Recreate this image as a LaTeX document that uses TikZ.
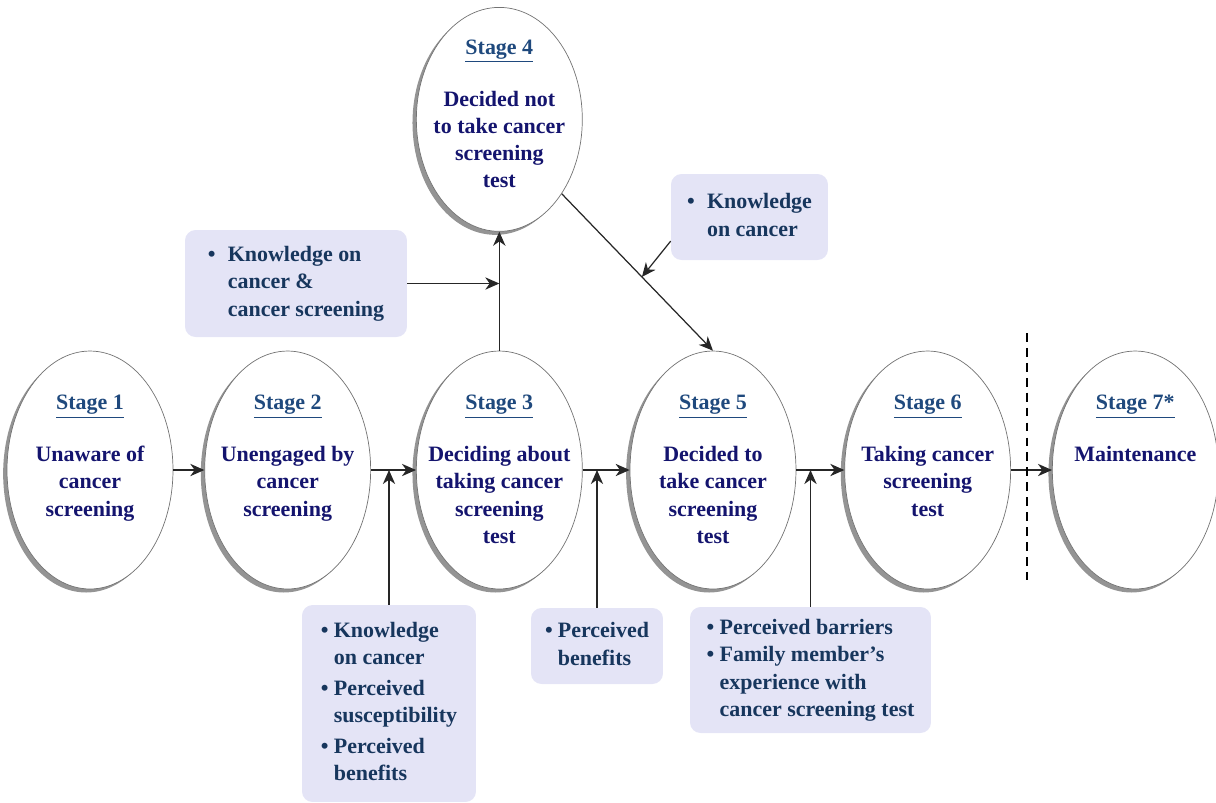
\documentclass[tikz,border=0pt]{standalone}
\usepackage{fontspec}
\setmainfont{Liberation Serif}
\usepackage{xcolor}
\usepackage{tikz}
\usetikzlibrary{positioning,arrows.meta,shapes.geometric,shadows,calc}
\definecolor{stagenavy}{RGB}{20,20,110}
\definecolor{stagetitle}{RGB}{31,73,125}
\definecolor{boxtext}{RGB}{23,54,93}
\definecolor{boxfill}{RGB}{228,228,246}
\newcommand{\stagehead}[1]{\textcolor{stagetitle}{\underline{#1}}}

\begin{document}
\begin{tikzpicture}[x=0.02cm,y=-0.02cm,
  stage/.style={ellipse,draw=black!55,fill=white,minimum width=33.2mm,minimum height=47.6mm,inner sep=0pt,
    drop shadow={shadow xshift=-2.2pt,shadow yshift=-2pt,fill=black!70,opacity=0.6}},
  stagetxt/.style={anchor=north,align=center,inner sep=0pt,text=stagenavy,font=\bfseries\fontsize{12.5}{15.5}\selectfont},
  factor/.style={rectangle,rounded corners=6pt,fill=boxfill,text=boxtext,align=left,font=\bfseries\fontsize{12.5}{15.5}\selectfont},
  dep/.style={-{Stealth[length=8pt,width=7pt,inset=2.5pt]},black!85,line width=0.7pt}]
\useasboundingbox (0,0) rectangle (1216,802);
% stages
\node[stage] (s1) at (90,470) {};
\node[stage,right=6.2mm of s1] (s2) {};
\node[stage,right=9mm of s2] (s3) {};
\node[stage,right=9.4mm of s3] (s5) {};
\node[stage,right=9.6mm of s5] (s6) {};
\node[stage,right=8.2mm of s6] (s7) {};
\node[stage,above=23.8mm of s3,minimum height=44.8mm] (s4) {};
\node[stagetxt] (t1) at ([yshift=15mm]s1.center) {\stagehead{Stage 1}\\[14pt]Unaware of\\cancer\\screening};
\node[stagetxt] (t2) at ([yshift=15mm]s2.center) {\stagehead{Stage 2}\\[14pt]Unengaged by\\cancer\\screening};
\node[stagetxt] (t3) at ([yshift=15mm]s3.center) {\stagehead{Stage 3}\\[14pt]Deciding about\\taking cancer\\screening\\test};
\node[stagetxt] (t4) at ([yshift=16mm]s4.center) {\stagehead{Stage 4}\\[14pt]Decided not\\to take cancer\\screening\\test};
\node[stagetxt] (t5) at ([yshift=15mm]s5.center) {\stagehead{Stage 5}\\[14pt]Decided to\\take cancer\\screening\\test};
\node[stagetxt] (t6) at ([yshift=15mm]s6.center) {\stagehead{Stage 6}\\[14pt]Taking cancer\\screening\\test};
\node[stagetxt] (t7) at ([yshift=15mm]s7.center) {\stagehead{Stage 7*}\\[14pt]Maintenance};
% influencing factors
\node[factor,minimum width=44.4mm,minimum height=21.4mm] (kA) at (296,283.5) {\begin{tabular}{@{}l@{\hspace{7pt}}l@{}}\textbullet & Knowledge on\\ & cancer \&\\ & cancer screening\end{tabular}};
\node[factor,minimum width=31.4mm,minimum height=17.2mm] (kB) at (749.5,217) {\begin{tabular}{@{}l@{\hspace{7pt}}l@{}}\textbullet & Knowledge\\ & on cancer\end{tabular}};
\node[factor,minimum width=34.8mm,minimum height=39.4mm] (kC) at (389,703.5) {\begin{tabular}{@{}l@{\hspace{3pt}}l@{}}\textbullet & Knowledge\\ & on cancer\\[2pt] \textbullet & Perceived\\ & susceptibility\\[2pt] \textbullet & Perceived\\ & benefits\end{tabular}};
\node[factor,minimum width=26.4mm,minimum height=15.2mm] (kD) at (597,646) {\begin{tabular}{@{}l@{\hspace{3pt}}l@{}}\textbullet & Perceived\\ & benefits\end{tabular}};
\node[factor,minimum width=48.2mm,minimum height=25.2mm] (kE) at (810.5,670) {\begin{tabular}{@{}l@{\hspace{3pt}}l@{}}\textbullet & Perceived barriers\\ \textbullet & Family member's\\ & experience with\\ & cancer screening test\end{tabular}};
% connectors
\draw[dep] (s1) -- (s2); \draw[dep] (s2) -- (s3); \draw[dep] (s3) -- (s5);
\draw[dep] (s5) -- (s6); \draw[dep] (s6) -- (s7);
\draw[dep] (s3) -- (s4);
\draw[dep] (kA) -- (kA -| s3.north);
\draw[dep] (s4.-50) -- (s5.north);
\coordinate (mid) at ($(s4.-50)!0.53!(s5.north)$);
\draw[dep] (kB.197) -- (mid);
\draw[dep] (kC) -- (kC |- s2.east);
\draw[dep] (kD) -- (kD |- s3.east);
\draw[dep] (kE) -- (kE |- s5.east);
% cut before maintenance
\coordinate (cut) at ($(s6.east)!0.4!(s7.west)$);
\draw[black,line width=1.2pt,dash pattern=on 5pt off 3.5pt] (cut) ++(0,-137) -- ++(0,247);
\end{tikzpicture}
\end{document}
